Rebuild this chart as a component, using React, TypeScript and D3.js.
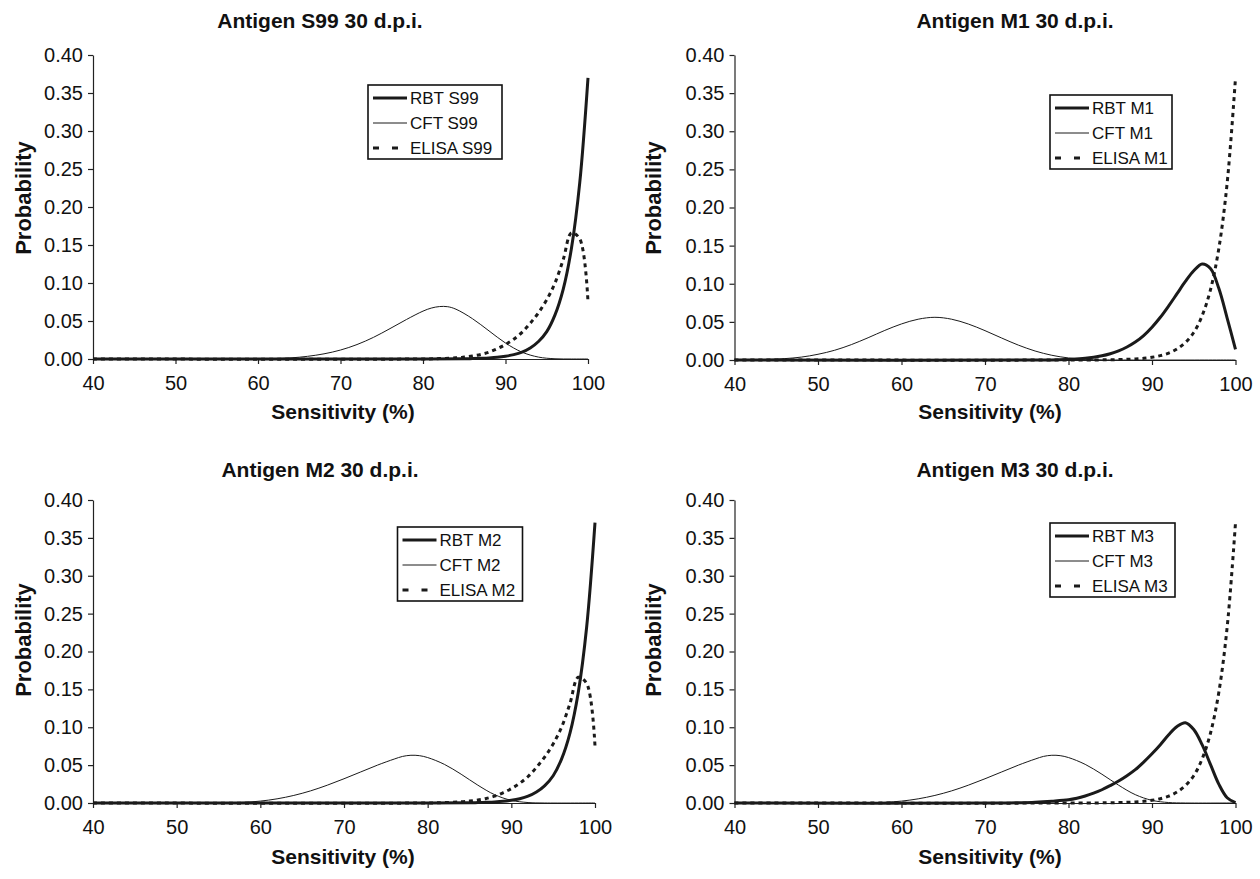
import React, { useRef, useEffect } from "react";
import * as d3 from "d3";

type Pt = [number, number];

const X_TICKS = [40, 50, 60, 70, 80, 90, 100];
const Y_TICKS = [0, 0.05, 0.1, 0.15, 0.2, 0.25, 0.3, 0.35, 0.4];
const TITLES = [
  "Antigen S99 30 d.p.i.",
  "Antigen M1 30 d.p.i.",
  "Antigen M2 30 d.p.i.",
  "Antigen M3 30 d.p.i.",
];
const ANTIGENS = ["S99", "M1", "M2", "M3"];
const TESTS = ["RBT", "CFT", "ELISA"];

// values, [sensitivity %, probability]
const rbtS99: Pt[] = [
  [40, 0], [80, 0], [85, 0.0003], [86, 0.0005], [87, 0.0009], [88, 0.0014],
  [89, 0.0022], [90, 0.0036], [91, 0.0057], [92, 0.009], [93, 0.0145],
  [94, 0.023], [95, 0.036], [96, 0.058], [97, 0.092], [98, 0.146],
  [99, 0.232], [100, 0.37],
];
const cftS99: Pt[] = [
  [40, 0], [58, 0], [60, 0.0002], [62, 0.0006], [64, 0.0015], [66, 0.0035],
  [68, 0.0068], [70, 0.0118], [72, 0.019], [74, 0.0285], [76, 0.04],
  [78, 0.052], [80, 0.063], [81, 0.067], [82, 0.069], [83, 0.0688],
  [84, 0.0655], [86, 0.053], [88, 0.037], [90, 0.021], [92, 0.009],
  [94, 0.0025], [96, 0.0003], [98, 0], [100, 0],
];
const elisaS99: Pt[] = [
  [40, 0], [80, 0], [82, 0.0005], [84, 0.0015], [85, 0.0025], [86, 0.004],
  [87, 0.006], [88, 0.009], [89, 0.0135], [90, 0.019], [91, 0.026],
  [92, 0.035], [93, 0.047], [94, 0.061], [95, 0.078], [96, 0.1],
  [97, 0.131], [98, 0.166], [99, 0.158], [100, 0.075],
];

const rbtM1: Pt[] = [
  [40, 0], [78, 0], [80, 0.0008], [82, 0.0022], [84, 0.0055], [85, 0.0082],
  [86, 0.012], [87, 0.017], [88, 0.0235], [89, 0.032], [90, 0.043],
  [91, 0.056], [92, 0.071], [93, 0.087], [94, 0.103], [95, 0.117],
  [96, 0.126], [97, 0.12], [98, 0.094], [99, 0.055], [100, 0.014],
];
const cftM1: Pt[] = [
  [40, 0], [42, 0.0002], [44, 0.0008], [46, 0.0018], [48, 0.0038],
  [50, 0.0075], [52, 0.0128], [54, 0.0202], [56, 0.0292], [58, 0.0388],
  [60, 0.0473], [62, 0.0535], [64, 0.056], [66, 0.0535], [68, 0.0472],
  [70, 0.0385], [72, 0.0288], [74, 0.0195], [76, 0.0118], [78, 0.0062],
  [80, 0.0027], [82, 0.0009], [84, 0.0002], [86, 0], [100, 0],
];
const elisaM1: Pt[] = [
  [40, 0], [82, 0], [86, 0.0005], [87, 0.0009], [88, 0.0014], [89, 0.0022],
  [90, 0.0036], [91, 0.0057], [92, 0.009], [93, 0.0145], [94, 0.023],
  [95, 0.036], [96, 0.058], [97, 0.092], [98, 0.146], [99, 0.232],
  [100, 0.37],
];

const rbtM2: Pt[] = [
  [40, 0], [80, 0], [85, 0.0003], [86, 0.0005], [87, 0.0009], [88, 0.0014],
  [89, 0.0022], [90, 0.0036], [91, 0.0057], [92, 0.009], [93, 0.0145],
  [94, 0.023], [95, 0.036], [96, 0.058], [97, 0.092], [98, 0.146],
  [99, 0.232], [100, 0.37],
];
const cftM2: Pt[] = [
  [40, 0], [54, 0], [56, 0.0003], [58, 0.0009], [60, 0.0025], [62, 0.0055],
  [64, 0.01], [66, 0.016], [68, 0.0235], [70, 0.032], [72, 0.041],
  [74, 0.05], [76, 0.058], [77, 0.0615], [78, 0.063], [79, 0.0625],
  [80, 0.06], [82, 0.051], [84, 0.038], [86, 0.0235], [88, 0.011],
  [90, 0.0035], [92, 0.0006], [94, 0], [100, 0],
];
const elisaM2: Pt[] = [
  [40, 0], [80, 0], [82, 0.0005], [84, 0.0015], [85, 0.0025], [86, 0.004],
  [87, 0.006], [88, 0.009], [89, 0.0135], [90, 0.019], [91, 0.026],
  [92, 0.035], [93, 0.047], [94, 0.061], [95, 0.078], [96, 0.1],
  [97, 0.131], [98, 0.166], [99, 0.158], [100, 0.075],
];

const rbtM3: Pt[] = [
  [40, 0], [72, 0], [74, 0.0004], [76, 0.0011], [78, 0.0024], [80, 0.0042],
  [81, 0.0062], [82, 0.0092], [83, 0.013], [84, 0.0175], [85, 0.023],
  [86, 0.029], [87, 0.036], [88, 0.044], [89, 0.054], [90, 0.065],
  [91, 0.077], [92, 0.09], [93, 0.101], [94, 0.106], [95, 0.097],
  [96, 0.077], [97, 0.051], [98, 0.025], [99, 0.007], [100, 0.0005],
];
const cftM3: Pt[] = [
  [40, 0], [54, 0], [56, 0.0003], [58, 0.0009], [60, 0.0025], [62, 0.0055],
  [64, 0.01], [66, 0.016], [68, 0.0235], [70, 0.032], [72, 0.041],
  [74, 0.05], [76, 0.058], [77, 0.0615], [78, 0.063], [79, 0.0625],
  [80, 0.06], [82, 0.051], [84, 0.038], [86, 0.0235], [88, 0.011],
  [90, 0.0035], [92, 0.0006], [94, 0], [100, 0],
];
const elisaM3: Pt[] = [
  [40, 0], [82, 0], [86, 0.0005], [87, 0.0009], [88, 0.0014], [89, 0.0022],
  [90, 0.0036], [91, 0.0057], [92, 0.009], [93, 0.0145], [94, 0.023],
  [95, 0.036], [96, 0.058], [97, 0.092], [98, 0.146], [99, 0.232],
  [100, 0.37],
];

const SERIES: Pt[][][] = [
  [rbtS99, cftS99, elisaS99],
  [rbtM1, cftM1, elisaM1],
  [rbtM2, cftM2, elisaM2],
  [rbtM3, cftM3, elisaM3],
];

const W = 1260;
const H = 879;
const FONT = "'Liberation Sans', Arial, Helvetica, sans-serif";
const INK = "#1a1a1a";

// panel geometry (pixels)
const LAYOUT = [
  { x0: 93, x1: 588, yBot: 359, yTop: 55, titleX: 320, titleY: 28, xlX: 343, xlY: 419, ylX: 31, ylY: 198, lgX: 368, lgY: 85, lgW: 134 },
  { x0: 734.5, x1: 1235.5, yBot: 360, yTop: 55, titleX: 1015, titleY: 28, xlX: 990, xlY: 419, ylX: 661, ylY: 198, lgX: 1050, lgY: 95, lgW: 122 },
  { x0: 93, x1: 595, yBot: 803, yTop: 500, titleX: 320, titleY: 477, xlX: 343, xlY: 864, ylX: 31, ylY: 640, lgX: 397.5, lgY: 527, lgW: 125 },
  { x0: 734.5, x1: 1235.5, yBot: 803, yTop: 500, titleX: 1015, titleY: 477, xlX: 990, xlY: 864, ylX: 661, ylY: 640, lgX: 1050, lgY: 523, lgW: 125 },
];

const LINE_STYLE = [
  { width: 3, dash: null, legendDash: null },
  { width: 1, dash: null, legendDash: null },
  { width: 3, dash: "4,4", legendDash: "6,13" },
];

export default function App() {
  const svgRef = useRef<SVGSVGElement>(null);

  useEffect(() => {
    const svg = d3.select(svgRef.current);
    svg.selectAll("*").remove();

    svg.append("rect").attr("width", W).attr("height", H).attr("fill", "#fff");

    LAYOUT.forEach((L, p) => {
      const x = d3.scaleLinear().domain([40, 100]).range([L.x0, L.x1]);
      const y = d3.scaleLinear().domain([0, 0.4]).range([L.yBot, L.yTop]);
      const g = svg.append("g");

      // axes
      const yAxis = g
        .append("g")
        .attr("transform", `translate(${L.x0},0)`)
        .call(
          d3
            .axisLeft(y)
            .tickValues(Y_TICKS)
            .tickFormat(d3.format(".2f"))
            .tickSize(5)
            .tickSizeOuter(0)
            .tickPadding(5),
        );
      const xAxis = g
        .append("g")
        .attr("transform", `translate(0,${L.yBot})`)
        .call(
          d3
            .axisBottom(x)
            .tickValues(X_TICKS)
            .tickFormat(d3.format("d"))
            .tickSize(5)
            .tickSizeOuter(0)
            .tickPadding(12),
        );
      [yAxis, xAxis].forEach((a) => {
        a.select(".domain").attr("stroke", "#222").attr("stroke-width", 1.2);
        a.selectAll(".tick line").attr("stroke", "#222").attr("stroke-width", 1.2);
        a.selectAll("text")
          .attr("font-family", FONT)
          .attr("font-size", 20)
          .attr("fill", "#111");
      });

      // curves
      const line = d3
        .line<Pt>()
        .x((d) => x(d[0]))
        .y((d) => y(d[1]))
        .curve(d3.curveCatmullRom.alpha(0.5));

      [1, 2, 0].forEach((k) => {
        const st = LINE_STYLE[k];
        g.append("path")
          .datum(SERIES[p][k])
          .attr("d", line)
          .attr("fill", "none")
          .attr("stroke", INK)
          .attr("stroke-width", st.width)
          .attr("stroke-dasharray", st.dash)
          .attr("stroke-linejoin", "round");
      });

      // title and axis labels
      g.append("text")
        .attr("x", L.titleX)
        .attr("y", L.titleY)
        .attr("text-anchor", "middle")
        .attr("font-family", FONT)
        .attr("font-weight", "bold")
        .attr("font-size", 21)
        .attr("fill", "#111")
        .text(TITLES[p]);

      g.append("text")
        .attr("x", L.xlX)
        .attr("y", L.xlY)
        .attr("text-anchor", "middle")
        .attr("font-family", FONT)
        .attr("font-weight", "bold")
        .attr("font-size", 21)
        .attr("fill", "#111")
        .text("Sensitivity (%)");

      g.append("text")
        .attr("transform", `translate(${L.ylX},${L.ylY}) rotate(-90)`)
        .attr("text-anchor", "middle")
        .attr("font-family", FONT)
        .attr("font-weight", "bold")
        .attr("font-size", 22)
        .attr("fill", "#111")
        .text("Probability");

      // legend
      const lg = g.append("g").attr("transform", `translate(${L.lgX},${L.lgY})`);
      lg.append("rect")
        .attr("width", L.lgW)
        .attr("height", 74)
        .attr("fill", "#fff")
        .attr("stroke", "#111")
        .attr("stroke-width", 1.6);
      TESTS.forEach((t, i) => {
        const st = LINE_STYLE[i];
        const ry = 13 + i * 25;
        lg.append("line")
          .attr("x1", 5)
          .attr("x2", 39)
          .attr("y1", ry)
          .attr("y2", ry)
          .attr("stroke", INK)
          .attr("stroke-width", st.width)
          .attr("stroke-dasharray", st.legendDash);
        lg.append("text")
          .attr("x", 42)
          .attr("y", ry)
          .attr("dy", "0.36em")
          .attr("font-family", FONT)
          .attr("font-size", 17)
          .attr("fill", "#111")
          .text(`${t} ${ANTIGENS[p]}`);
      });
    });
  }, []);

  return (
    <svg
      ref={svgRef}
      width={W}
      height={H}
      style={{ position: "absolute", left: 0, top: 0, display: "block" }}
    />
  );
}
